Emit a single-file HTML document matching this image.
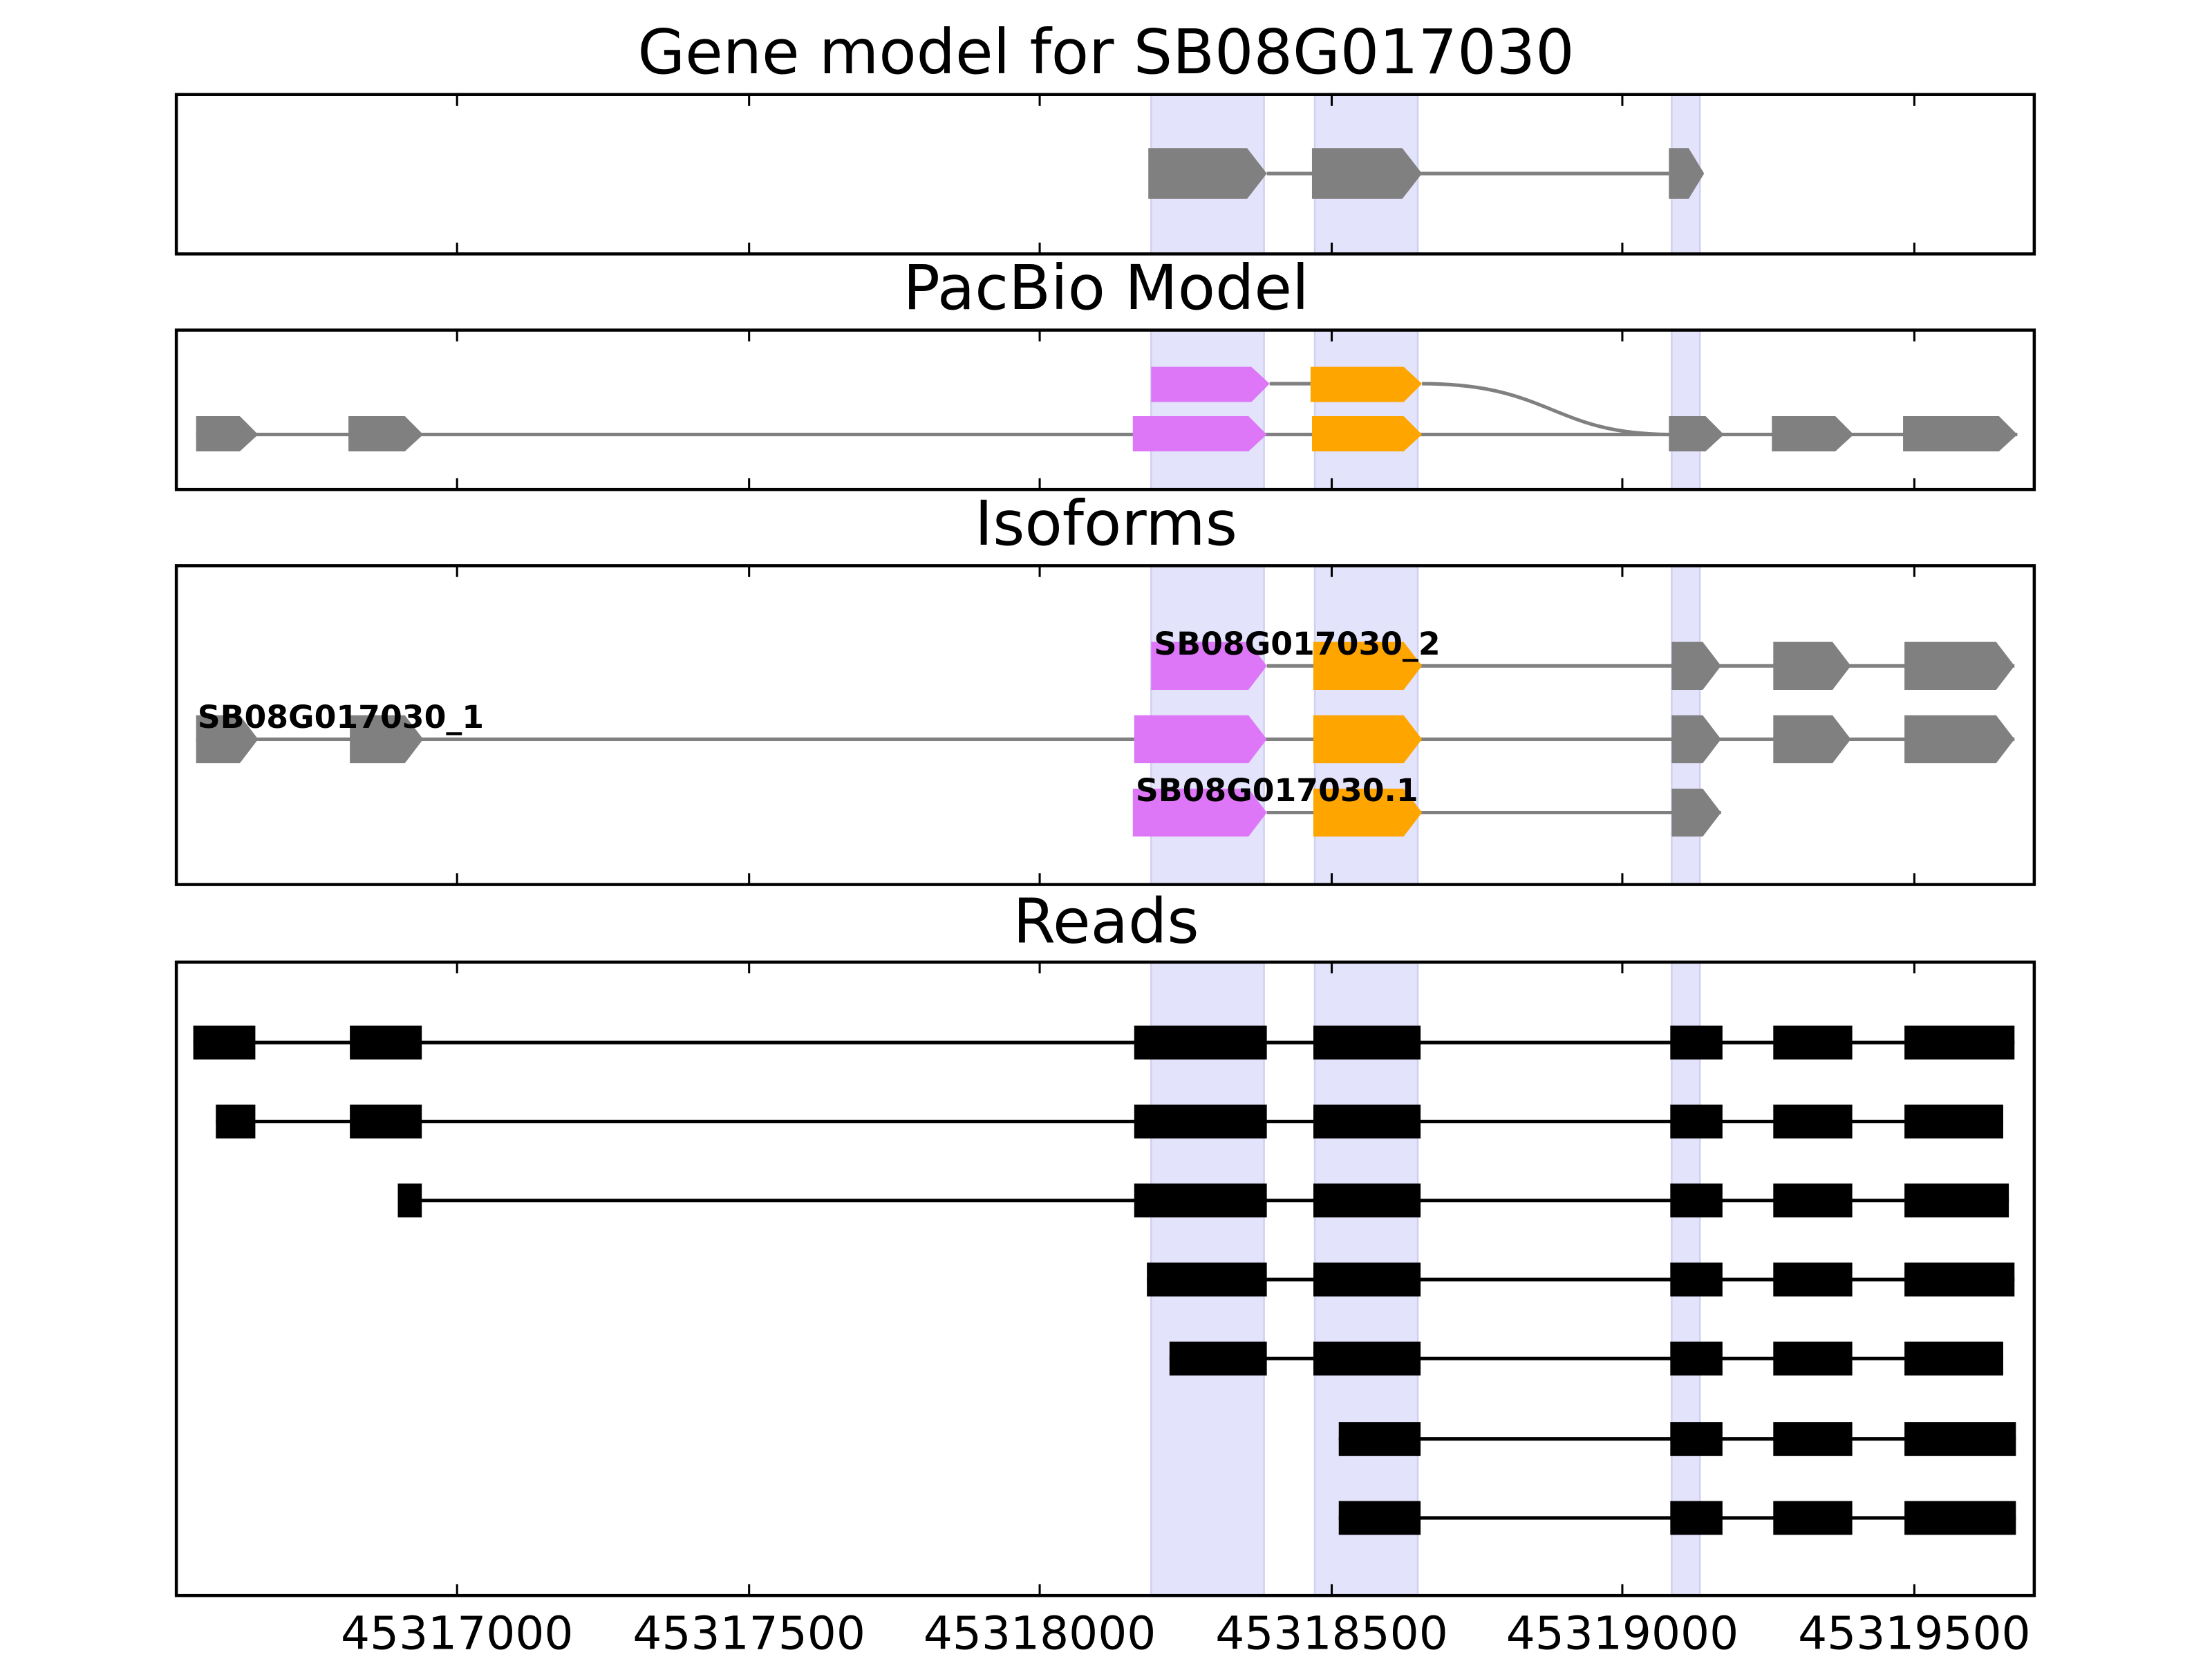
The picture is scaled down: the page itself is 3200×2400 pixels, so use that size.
<!DOCTYPE html>
<html><head><meta charset="utf-8"><style>html,body{margin:0;padding:0;background:#fff}svg{display:block}</style></head>
<body>
<svg width="3200" height="2400" viewBox="0 0 1568 1176" xmlns="http://www.w3.org/2000/svg" font-family="'DejaVu Sans','Liberation Sans',sans-serif">
<!-- shading -->
<g fill="#e3e3fb" stroke="#cfcff2" stroke-width="1.2">
<rect x="816" y="67" width="80" height="113"/><rect x="932" y="67" width="73" height="113"/><rect x="1185" y="67" width="20" height="113"/>
<rect x="816" y="234" width="80" height="113"/><rect x="932" y="234" width="73" height="113"/><rect x="1185" y="234" width="20" height="113"/>
<rect x="816" y="401" width="80" height="226"/><rect x="932" y="401" width="73" height="226"/><rect x="1185" y="401" width="20" height="226"/>
<rect x="816" y="682" width="80" height="449"/><rect x="932" y="682" width="73" height="449"/><rect x="1185" y="682" width="20" height="449"/>
</g>
<!-- titles -->
<g font-size="43.5" text-anchor="middle" fill="#000">
<text x="784" y="52">Gene model for SB08G017030</text>
<text x="784" y="219">PacBio Model</text>
<text x="784" y="386">Isoforms</text>
<text x="784" y="668">Reads</text>
</g>
<!-- panel 1 -->
<g stroke="#808080" stroke-width="2.5" fill="none"><line x1="898" y1="123" x2="1183" y2="123"/></g>
<g fill="#808080">
<polygon points="814,105 884,105 898,123 884,141 814,141"/>
<polygon points="930,105 994,105 1008,123 994,141 930,141"/>
<polygon points="1183,105 1197,105 1208,123 1197,141 1183,141"/>
</g>
<!-- panel 2 -->
<g stroke="#808080" stroke-width="2.5" fill="none">
<line x1="900" y1="272" x2="929" y2="272"/>
<path d="M1008,272 C1100,272 1100,308 1185,308"/>
<line x1="139" y1="308" x2="1430" y2="308"/>
</g>
<g>
<polygon fill="#dd77f7" points="816,260 887,260 900,272 887,285 816,285"/>
<polygon fill="#ffa500" points="929,260 995,260 1008,272 995,285 929,285"/>
<polygon fill="#808080" points="139,295 170,295 183,308 170,320 139,320"/>
<polygon fill="#808080" points="247,295 287,295 300,308 287,320 247,320"/>
<polygon fill="#dd77f7" points="803,295 885,295 898,308 885,320 803,320"/>
<polygon fill="#ffa500" points="930,295 995,295 1008,308 995,320 930,320"/>
<polygon fill="#808080" points="1183,295 1209,295 1222,308 1209,320 1183,320"/>
<polygon fill="#808080" points="1256,295 1301,295 1314,308 1301,320 1256,320"/>
<polygon fill="#808080" points="1349,295 1417,295 1430,308 1417,320 1349,320"/>
</g>
<!-- panel 3 -->
<g stroke="#808080" stroke-width="2.5">
<line x1="898" y1="472" x2="1428" y2="472"/>
<line x1="139" y1="524" x2="1428" y2="524"/>
<line x1="898" y1="576" x2="1220" y2="576"/>
</g>
<g>
<polygon fill="#dd77f7" points="816,455 885,455 898,472 885,489 816,489"/>
<polygon fill="#ffa500" points="931,455 995,455 1008,472 995,489 931,489"/>
<polygon fill="#808080" points="1185,455 1207,455 1220,472 1207,489 1185,489"/>
<polygon fill="#808080" points="1257,455 1299,455 1312,472 1299,489 1257,489"/>
<polygon fill="#808080" points="1350,455 1415,455 1428,472 1415,489 1350,489"/>
<polygon fill="#808080" points="139,507 170,507 183,524 170,541 139,541"/>
<polygon fill="#808080" points="248,507 287,507 300,524 287,541 248,541"/>
<polygon fill="#dd77f7" points="804,507 885,507 898,524 885,541 804,541"/>
<polygon fill="#ffa500" points="931,507 995,507 1008,524 995,541 931,541"/>
<polygon fill="#808080" points="1185,507 1207,507 1220,524 1207,541 1185,541"/>
<polygon fill="#808080" points="1257,507 1299,507 1312,524 1299,541 1257,541"/>
<polygon fill="#808080" points="1350,507 1415,507 1428,524 1415,541 1350,541"/>
<polygon fill="#dd77f7" points="803,559 885,559 898,576 885,593 803,593"/>
<polygon fill="#ffa500" points="931,559 995,559 1008,576 995,593 931,593"/>
<polygon fill="#808080" points="1185,559 1207,559 1220,576 1207,593 1185,593"/>
</g>
<g font-size="22.4" font-weight="bold" fill="#000">
<text x="818" y="464">SB08G017030_2</text>
<text x="140" y="516">SB08G017030_1</text>
<text x="805" y="568">SB08G017030.1</text>
</g>
<!-- reads -->
<g stroke="#000" stroke-width="2.5">
<line x1="137" y1="739" x2="1428" y2="739"/>
<line x1="153" y1="795" x2="1420" y2="795"/>
<line x1="282" y1="851" x2="1424" y2="851"/>
<line x1="813" y1="907" x2="1428" y2="907"/>
<line x1="829" y1="963" x2="1420" y2="963"/>
<line x1="949" y1="1020" x2="1429" y2="1020"/>
<line x1="949" y1="1076" x2="1429" y2="1076"/>
</g>
<g fill="#000">
<rect x="137" y="727" width="44" height="24"/><rect x="248" y="727" width="51" height="24"/><rect x="804" y="727" width="94" height="24"/><rect x="931" y="727" width="76" height="24"/><rect x="1184" y="727" width="37" height="24"/><rect x="1257" y="727" width="56" height="24"/><rect x="1350" y="727" width="78" height="24"/>
<rect x="153" y="783" width="28" height="24"/><rect x="248" y="783" width="51" height="24"/><rect x="804" y="783" width="94" height="24"/><rect x="931" y="783" width="76" height="24"/><rect x="1184" y="783" width="37" height="24"/><rect x="1257" y="783" width="56" height="24"/><rect x="1350" y="783" width="70" height="24"/>
<rect x="282" y="839" width="17" height="24"/><rect x="804" y="839" width="94" height="24"/><rect x="931" y="839" width="76" height="24"/><rect x="1184" y="839" width="37" height="24"/><rect x="1257" y="839" width="56" height="24"/><rect x="1350" y="839" width="74" height="24"/>
<rect x="813" y="895" width="85" height="24"/><rect x="931" y="895" width="76" height="24"/><rect x="1184" y="895" width="37" height="24"/><rect x="1257" y="895" width="56" height="24"/><rect x="1350" y="895" width="78" height="24"/>
<rect x="829" y="951" width="69" height="24"/><rect x="931" y="951" width="76" height="24"/><rect x="1184" y="951" width="37" height="24"/><rect x="1257" y="951" width="56" height="24"/><rect x="1350" y="951" width="70" height="24"/>
<rect x="949" y="1008" width="58" height="24"/><rect x="1184" y="1008" width="37" height="24"/><rect x="1257" y="1008" width="56" height="24"/><rect x="1350" y="1008" width="79" height="24"/>
<rect x="949" y="1064" width="58" height="24"/><rect x="1184" y="1064" width="37" height="24"/><rect x="1257" y="1064" width="56" height="24"/><rect x="1350" y="1064" width="79" height="24"/>
</g>
<!-- axes frames and ticks -->
<g stroke="#000" stroke-width="2.2" fill="none">
<rect x="125" y="67" width="1317" height="113"/>
<rect x="125" y="234" width="1317" height="113"/>
<rect x="125" y="401" width="1317" height="226"/>
<rect x="125" y="682" width="1317" height="449"/>
</g>
<g stroke="#000" stroke-width="1.5">
<path d="M324,67v8M531,67v8M737,67v8M944,67v8M1150,67v8M1357,67v8 M324,180v-8M531,180v-8M737,180v-8M944,180v-8M1150,180v-8M1357,180v-8"/>
<path d="M324,234v8M531,234v8M737,234v8M944,234v8M1150,234v8M1357,234v8 M324,347v-8M531,347v-8M737,347v-8M944,347v-8M1150,347v-8M1357,347v-8"/>
<path d="M324,401v8M531,401v8M737,401v8M944,401v8M1150,401v8M1357,401v8 M324,627v-8M531,627v-8M737,627v-8M944,627v-8M1150,627v-8M1357,627v-8"/>
<path d="M324,682v8M531,682v8M737,682v8M944,682v8M1150,682v8M1357,682v8 M324,1131v-8M531,1131v-8M737,1131v-8M944,1131v-8M1150,1131v-8M1357,1131v-8"/>
</g>
<g font-size="32.4" text-anchor="middle" fill="#000">
<text x="324" y="1169">45317000</text>
<text x="531" y="1169">45317500</text>
<text x="737" y="1169">45318000</text>
<text x="944" y="1169">45318500</text>
<text x="1150" y="1169">45319000</text>
<text x="1357" y="1169">45319500</text>
</g>
</svg>
</body></html>
